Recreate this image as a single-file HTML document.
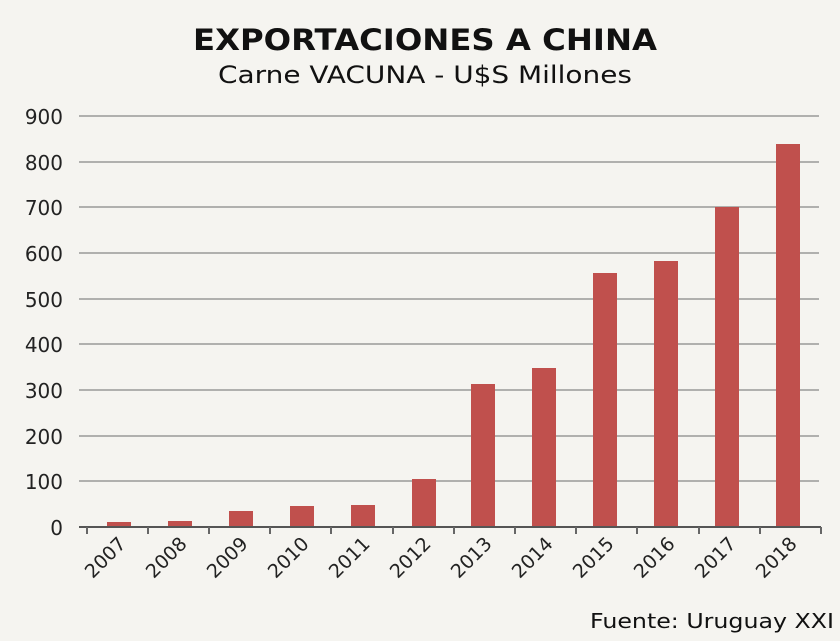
<!DOCTYPE html>
<html><head><style>
body{margin:0;background:#f5f4f0;}
</style></head><body>
<svg width="840" height="641" xmlns="http://www.w3.org/2000/svg" style="display:block;font-family:'DejaVu Sans','Liberation Sans',sans-serif">
<rect width="840" height="641" fill="#f5f4f0"/>
<text x="425" y="50" text-anchor="middle" font-size="29" font-weight="bold" fill="#111" textLength="464" lengthAdjust="spacingAndGlyphs">EXPORTACIONES A CHINA</text>
<text x="425" y="83" text-anchor="middle" font-size="24" fill="#111" textLength="414" lengthAdjust="spacingAndGlyphs">Carne VACUNA - U$S Millones</text>
<g stroke="#b0b0ae" stroke-width="2">
<line x1="79" y1="116" x2="819" y2="116"/><line x1="79" y1="162" x2="819" y2="162"/>
<line x1="79" y1="207" x2="819" y2="207"/><line x1="79" y1="253" x2="819" y2="253"/>
<line x1="79" y1="299" x2="819" y2="299"/><line x1="79" y1="344" x2="819" y2="344"/>
<line x1="79" y1="390" x2="819" y2="390"/><line x1="79" y1="436" x2="819" y2="436"/>
<line x1="79" y1="481" x2="819" y2="481"/>
</g>
<g fill="#c0504d">
<rect x="107" y="522" width="24" height="5"/>
<rect x="168" y="521" width="24" height="6"/>
<rect x="229" y="511" width="24" height="16"/>
<rect x="290" y="506" width="24" height="21"/>
<rect x="351" y="505" width="24" height="22"/>
<rect x="412" y="479" width="24" height="48"/>
<rect x="471" y="384" width="24" height="143"/>
<rect x="532" y="368" width="24" height="159"/>
<rect x="593" y="273" width="24" height="254"/>
<rect x="654" y="261" width="24" height="266"/>
<rect x="715" y="207" width="24" height="320"/>
<rect x="776" y="144" width="24" height="383"/>
</g>
<line x1="79" y1="527" x2="821" y2="527" stroke="#555" stroke-width="2"/>
<g stroke="#666" stroke-width="2">
<line x1="87" y1="527" x2="87" y2="534"/><line x1="148" y1="527" x2="148" y2="534"/><line x1="209" y1="527" x2="209" y2="534"/><line x1="270" y1="527" x2="270" y2="534"/><line x1="331" y1="527" x2="331" y2="534"/><line x1="393" y1="527" x2="393" y2="534"/><line x1="454" y1="527" x2="454" y2="534"/><line x1="515" y1="527" x2="515" y2="534"/><line x1="576" y1="527" x2="576" y2="534"/><line x1="637" y1="527" x2="637" y2="534"/><line x1="699" y1="527" x2="699" y2="534"/><line x1="760" y1="527" x2="760" y2="534"/><line x1="821" y1="527" x2="821" y2="534"/>
</g>
<g font-size="20" fill="#222" text-anchor="end">
<text x="63" y="124">900</text><text x="63" y="170">800</text><text x="63" y="215">700</text>
<text x="63" y="261">600</text><text x="63" y="307">500</text><text x="63" y="352">400</text>
<text x="63" y="398">300</text><text x="63" y="444">200</text><text x="63" y="489">100</text>
<text x="63" y="535">0</text>
</g>
<g font-size="19" fill="#222" text-anchor="end">
<text transform="translate(127,545) rotate(-45)">2007</text>
<text transform="translate(188,545) rotate(-45)">2008</text>
<text transform="translate(249,545) rotate(-45)">2009</text>
<text transform="translate(310,545) rotate(-45)">2010</text>
<text transform="translate(371,545) rotate(-45)">2011</text>
<text transform="translate(432,545) rotate(-45)">2012</text>
<text transform="translate(493,545) rotate(-45)">2013</text>
<text transform="translate(554,545) rotate(-45)">2014</text>
<text transform="translate(615,545) rotate(-45)">2015</text>
<text transform="translate(676,545) rotate(-45)">2016</text>
<text transform="translate(737,545) rotate(-45)">2017</text>
<text transform="translate(798,545) rotate(-45)">2018</text>
</g>
<text x="834" y="628" text-anchor="end" font-size="20" fill="#111" textLength="244" lengthAdjust="spacingAndGlyphs">Fuente: Uruguay XXI</text>
</svg>
</body></html>
